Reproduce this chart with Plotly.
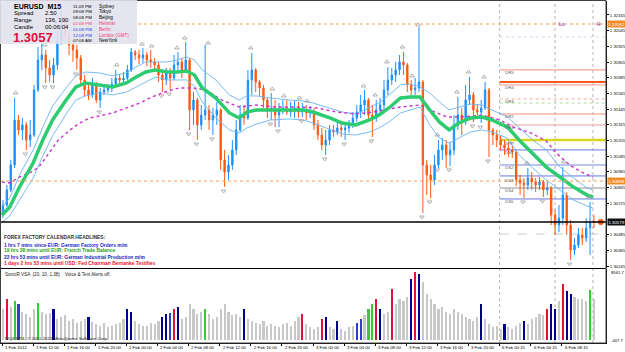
import plotly.graph_objects as go

W, H = 625, 352

# ---------------- data ----------------
time_label_bars = [0, 16, 32, 48, 64, 80, 96, 112, 128, 144, 160, 176, 192, 208, 224, 240, 256, 272, 288]
time_labels = ["1 Feb 2012", "1 Feb 12:00", "1 Feb 16:00", "1 Feb 20:00", "2 Feb 00:00", "2 Feb 04:00",
               "2 Feb 08:00", "2 Feb 12:00", "2 Feb 16:00", "2 Feb 20:00", "3 Feb 00:00", "3 Feb 04:00",
               "3 Feb 08:00", "3 Feb 12:00", "3 Feb 16:00", "3 Feb 20:00", "6 Feb 00:15", "6 Feb 04:15",
               "6 Feb 08:15"]

price_ticks = [1.32165, 1.32045, 1.31925, 1.31805, 1.31685, 1.31565, 1.31445, 1.31325, 1.31205,
               1.31085, 1.30965, 1.30845, 1.30725, 1.30485, 1.30365, 1.30245]

opens = [1.30635, 1.30712, 1.30827, 1.31018, 1.31362, 1.31286, 1.31324, 1.31209, 1.31247, 1.31592,
         1.31821, 1.31859, 1.31760, 1.31706, 1.31783, 1.31974, 1.32127, 1.32012, 1.31936, 1.31898,
         1.31836, 1.31668, 1.31592, 1.31553, 1.31630, 1.31515, 1.31576, 1.31592, 1.31607, 1.31637,
         1.31683, 1.31668, 1.31683, 1.31745, 1.31882, 1.31859, 1.31836, 1.31859, 1.31821, 1.31806,
         1.31783, 1.31706, 1.31668, 1.31729, 1.31683, 1.31783, 1.31806, 1.31745, 1.31821, 1.31439,
         1.31515, 1.31324, 1.31400, 1.31439, 1.31362, 1.31400, 1.31439, 1.31056, 1.30964, 1.31018,
         1.31132, 1.31286, 1.31400, 1.31377, 1.31668, 1.31745, 1.31653, 1.31607, 1.31515, 1.31439,
         1.31454, 1.31400, 1.31439, 1.31454, 1.31423, 1.31439, 1.31454, 1.31423, 1.31439, 1.31416,
         1.31423, 1.31324, 1.31247, 1.31171, 1.31209, 1.31286, 1.31270, 1.31301, 1.31286, 1.31301,
         1.31324, 1.31377, 1.31423, 1.31477, 1.31515, 1.31400, 1.31377, 1.31439, 1.31477, 1.31592,
         1.31668, 1.31706, 1.31745, 1.31806, 1.31783, 1.31630, 1.31592, 1.31607, 1.31653, 1.31018,
         1.30941, 1.30903, 1.31018, 1.31132, 1.31171, 1.31094, 1.31132, 1.31324, 1.31400, 1.31362,
         1.31515, 1.31553, 1.31439, 1.31423, 1.31454, 1.31592, 1.31286, 1.31247, 1.31209, 1.31171,
         1.31148, 1.31132, 1.31117, 1.30903, 1.30880, 1.30865, 1.30918, 1.30888, 1.30865, 1.30888,
         1.30827, 1.30842, 1.30635, 1.30559, 1.30612, 1.30788, 1.30559, 1.30368, 1.30406, 1.30482,
         1.30459, 1.30536, 1.30582]
highs = [1.30750, 1.30865, 1.31056, 1.31531, 1.31400, 1.31377, 1.31347, 1.31362, 1.31630, 1.31920,
         1.31974, 1.31898, 1.31821, 1.31836, 1.32051, 1.32204, 1.32165, 1.32051, 1.31974, 1.31936,
         1.31859, 1.31706, 1.31630, 1.31683, 1.31653, 1.31607, 1.31630, 1.31637, 1.31683, 1.31745,
         1.31714, 1.31729, 1.31783, 1.31913, 1.31898, 1.31898, 1.31913, 1.31882, 1.31898, 1.31836,
         1.31806, 1.31745, 1.31760, 1.31760, 1.31859, 1.31882, 1.31836, 1.31959, 1.31836, 1.31576,
         1.31531, 1.31477, 1.31936, 1.31477, 1.31454, 1.31500, 1.31454, 1.31132, 1.31094, 1.31209,
         1.31362, 1.31477, 1.31477, 1.31745, 1.31875, 1.31760, 1.31668, 1.31630, 1.31531, 1.31569,
         1.31515, 1.31492, 1.31515, 1.31515, 1.31500, 1.31515, 1.31500, 1.31492, 1.31477, 1.31469,
         1.31454, 1.31362, 1.31301, 1.31286, 1.31324, 1.31324, 1.31347, 1.31347, 1.31339, 1.31362,
         1.31423, 1.31477, 1.31553, 1.31592, 1.31531, 1.31477, 1.31515, 1.31531, 1.31668, 1.31767,
         1.31760, 1.31806, 1.31859, 1.31882, 1.31798, 1.31668, 1.31683, 1.32073, 1.31668, 1.31056,
         1.31018, 1.31094, 1.31209, 1.31224, 1.31209, 1.31194, 1.31400, 1.31538, 1.31454, 1.31630,
         1.31691, 1.31576, 1.31477, 1.31515, 1.31653, 1.31607, 1.31301, 1.31286, 1.31247, 1.31209,
         1.31194, 1.31171, 1.31132, 1.30941, 1.30918, 1.30995, 1.30964, 1.30918, 1.30926, 1.30903,
         1.30888, 1.30857, 1.30674, 1.30712, 1.31002, 1.30811, 1.30597, 1.30459, 1.30536, 1.30536,
         1.30612, 1.30735, 1.30635]
lows = [1.30612, 1.30696, 1.30811, 1.30995, 1.31247, 1.31209, 1.31132, 1.31155, 1.31232, 1.31576,
        1.31745, 1.31645, 1.31653, 1.31645, 1.31745, 1.31936, 1.31974, 1.31859, 1.31806, 1.31745,
        1.31630, 1.31538, 1.31515, 1.31531, 1.31492, 1.31454, 1.31553, 1.31569, 1.31576, 1.31622,
        1.31630, 1.31637, 1.31668, 1.31729, 1.31821, 1.31790, 1.31798, 1.31775, 1.31760, 1.31729,
        1.31653, 1.31576, 1.31630, 1.31592, 1.31668, 1.31745, 1.31683, 1.31729, 1.31286, 1.31324,
        1.31209, 1.31286, 1.31362, 1.31286, 1.31247, 1.31324, 1.30980, 1.30850, 1.30903, 1.30980,
        1.31094, 1.31270, 1.31324, 1.31362, 1.31553, 1.31576, 1.31546, 1.31454, 1.31377, 1.31362,
        1.31308, 1.31308, 1.31408, 1.31400, 1.31385, 1.31377, 1.31377, 1.31385, 1.31362, 1.31377,
        1.31286, 1.31209, 1.31132, 1.31094, 1.31171, 1.31232, 1.31247, 1.31232, 1.31209, 1.31263,
        1.31301, 1.31347, 1.31377, 1.31400, 1.31347, 1.31232, 1.31347, 1.31400, 1.31439, 1.31553,
        1.31630, 1.31653, 1.31706, 1.31706, 1.31576, 1.31538, 1.31553, 1.31576, 1.30651, 1.30788,
        1.30765, 1.30865, 1.30995, 1.31056, 1.30995, 1.31010, 1.31094, 1.31286, 1.31247, 1.31324,
        1.31477, 1.31347, 1.31377, 1.31339, 1.31439, 1.31079, 1.31171, 1.31155, 1.31132, 1.31094,
        1.31079, 1.31071, 1.30857, 1.30788, 1.30765, 1.30827, 1.30827, 1.30811, 1.30827, 1.30773,
        1.30788, 1.30559, 1.30482, 1.30505, 1.30559, 1.30482, 1.30291, 1.30329, 1.30383, 1.30406,
        1.30429, 1.30329, 1.30536]
closes = [1.30712, 1.30827, 1.31018, 1.31362, 1.31286, 1.31324, 1.31209, 1.31247, 1.31592, 1.31821,
          1.31859, 1.31760, 1.31706, 1.31783, 1.31974, 1.32127, 1.32012, 1.31936, 1.31898, 1.31836,
          1.31668, 1.31592, 1.31553, 1.31630, 1.31515, 1.31576, 1.31592, 1.31607, 1.31637, 1.31683,
          1.31668, 1.31683, 1.31745, 1.31882, 1.31859, 1.31836, 1.31859, 1.31821, 1.31806, 1.31783,
          1.31706, 1.31668, 1.31729, 1.31683, 1.31783, 1.31806, 1.31745, 1.31821, 1.31439, 1.31515,
          1.31324, 1.31400, 1.31439, 1.31362, 1.31400, 1.31439, 1.31056, 1.30964, 1.31018, 1.31132,
          1.31286, 1.31400, 1.31377, 1.31668, 1.31745, 1.31653, 1.31607, 1.31515, 1.31439, 1.31454,
          1.31400, 1.31439, 1.31454, 1.31423, 1.31439, 1.31454, 1.31423, 1.31439, 1.31416, 1.31423,
          1.31324, 1.31247, 1.31171, 1.31209, 1.31286, 1.31270, 1.31301, 1.31286, 1.31301, 1.31324,
          1.31377, 1.31423, 1.31477, 1.31515, 1.31400, 1.31377, 1.31439, 1.31477, 1.31592, 1.31668,
          1.31706, 1.31745, 1.31806, 1.31783, 1.31630, 1.31592, 1.31607, 1.31653, 1.31018, 1.30941,
          1.30903, 1.31018, 1.31132, 1.31171, 1.31094, 1.31132, 1.31324, 1.31400, 1.31362, 1.31515,
          1.31553, 1.31439, 1.31423, 1.31454, 1.31592, 1.31286, 1.31247, 1.31209, 1.31171, 1.31148,
          1.31132, 1.31117, 1.30903, 1.30880, 1.30865, 1.30918, 1.30888, 1.30865, 1.30888, 1.30827,
          1.30842, 1.30635, 1.30559, 1.30612, 1.30788, 1.30559, 1.30368, 1.30406, 1.30482, 1.30459,
          1.30536, 1.30582, 1.30579]

volumes = [3700, 4900, 3900, 4700, 4300, 3400, 3100, 2700, 3700, 4400,
           3400, 3100, 3200, 3700, 2500, 2700, 2950, 2200, 2500, 2000,
           2200, 2500, 2700, 2100, 1850, 1700, 2000, 1500, 1700, 1850,
           2000, 2500, 3700, 3400, 2200, 1850, 1700, 1600, 2000, 1850,
           2200, 2700, 3100, 3200, 3700, 3900, 2500, 2700, 4300, 3700,
           3100, 3400, 3700, 3100, 2500, 2700, 3700, 4300, 3400, 2950,
           3100, 2700, 3700, 2500, 2200, 2000, 1850, 2200, 1700, 1850,
           1700, 1500, 1850, 2000, 1600, 2200, 2700, 3100, 1850, 1500,
           1250, 1500, 2500, 2700, 1500, 1250, 2200, 1250, 1100, 1500,
           1700, 2000, 2500, 2950, 3700, 4300, 4900, 3700, 3100, 3400,
           6150, 4300, 4900, 4700, 5150, 7400, 8200, 8000, 7000, 5550,
           4900, 4300, 3700, 3900, 3400, 3100, 3700, 3400, 3100, 2700,
           2500, 2200, 2700, 4300, 2500, 1850, 1500, 1700, 1250, 1850,
           1500, 1250, 1700, 2000, 2200, 1850, 2500, 2700, 3100, 2950,
           3700, 4300, 3700, 4700, 6750, 5900, 5550, 5150, 4900, 4900,
           4700, 6000, 4900]
vol_kind = list("grgGbggggG" "gggngggggg" "ggnggggggg" "ggnngggggg" "gnnbrngggg"
                "ggGggggggg" "ggnggggggg" "gggggggrgg" "ggrnggnggg" "gbbgGGrngg"
                "rggggnrngg" "gggggggggg" "gggngggggn" "ggggnggggg" "rnngrnnggg" "gGg")

# moving averages (bar index, price)
ma_bars = [0, 4, 9, 16, 21, 26, 33, 38, 43, 50, 57, 64, 69, 74, 79, 85, 90, 95, 99, 103,
           110, 117, 122, 126, 131, 138, 148, 155, 160, 169, 175, 182, 189, 194, 199, 205, 210, 215, 220, 225,
           230, 235, 241, 247, 252, 260, 266, 273, 280, 287, 294, 301, 304]
ema_mid = [1.30635, 1.30696, 1.30849, 1.31033, 1.31209, 1.31362, 1.31515, 1.31614, 1.31645, 1.31630,
           1.31614, 1.31645, 1.31691, 1.31729, 1.31745, 1.31729, 1.31729, 1.31737, 1.31706, 1.31607,
           1.31530, 1.31416, 1.31377, 1.31423, 1.31439, 1.31439, 1.31439, 1.31439, 1.31423, 1.31377,
           1.31339, 1.31324, 1.31362, 1.31400, 1.31454, 1.31530, 1.31538, 1.31538, 1.31439, 1.31347,
           1.31286, 1.31339, 1.31377, 1.31385, 1.31362, 1.31308, 1.31209, 1.31110, 1.31002, 1.30926,
           1.30849, 1.30788, 1.30773]
ema_high = [1.30696, 1.30765, 1.30941, 1.31133, 1.31308, 1.31469, 1.31607, 1.31699, 1.31729, 1.31722,
            1.31699, 1.31722, 1.31767, 1.31806, 1.31806, 1.31806, 1.31821, 1.31844, 1.31821, 1.31745,
            1.31668, 1.31553, 1.31515, 1.31546, 1.31546, 1.31530, 1.31515, 1.31507, 1.31492, 1.31454,
            1.31423, 1.31408, 1.31454, 1.31492, 1.31553, 1.31630, 1.31637, 1.31614, 1.31569, 1.31500,
            1.31439, 1.31461, 1.31484, 1.31477, 1.31439, 1.31385, 1.31301, 1.31209, 1.31133, 1.31002,
            1.30918, 1.30842, 1.30827]
ema_low = [1.30582, 1.30628, 1.30750, 1.30918, 1.31087, 1.31240, 1.31408, 1.31515, 1.31546, 1.31569,
           1.31553, 1.31576, 1.31614, 1.31653, 1.31691, 1.31668, 1.31668, 1.31668, 1.31622, 1.31500,
           1.31377, 1.31286, 1.31263, 1.31301, 1.31331, 1.31362, 1.31370, 1.31362, 1.31339, 1.31286,
           1.31255, 1.31247, 1.31270, 1.31301, 1.31347, 1.31416, 1.31439, 1.31461, 1.31324, 1.31224,
           1.31186, 1.31224, 1.31270, 1.31286, 1.31270, 1.31224, 1.31094, 1.30995, 1.30903, 1.30827,
           1.30750, 1.30704, 1.30689]
ma89_bars = [0, 4, 9, 15, 19, 24, 29, 35, 40, 45, 50, 57, 64, 71, 77, 84, 91, 98, 105, 113,
             122, 131, 141, 153, 162, 172, 182, 191, 199, 205, 215, 220, 229, 237, 247, 256, 263, 272, 280, 285,
             292, 299, 304]
ma89 = [1.30888, 1.30880, 1.30926, 1.30964, 1.31002, 1.31110, 1.31209, 1.31286, 1.31339, 1.31377,
        1.31393, 1.31416, 1.31454, 1.31492, 1.31538, 1.31576, 1.31607, 1.31607, 1.31592, 1.31515,
        1.31461, 1.31477, 1.31461, 1.31461, 1.31454, 1.31423, 1.31408, 1.31423, 1.31446, 1.31461,
        1.31477, 1.31439, 1.31385, 1.31385, 1.31400, 1.31362, 1.31308, 1.31263, 1.31201, 1.31110,
        1.31018, 1.30957, 1.30926]

# fractals (bar index, price)
frac_up_bars = [7, 22, 59, 66, 72, 77, 90, 94, 106, 128, 139, 145, 153, 157, 186, 192, 198, 206, 211, 214,
                224, 234, 240, 248, 270, 289, 302]
frac_up = [1.31569, 1.31936, 1.31783, 1.31974, 1.31943, 1.31928, 1.31913, 1.31989, 1.31951, 1.31913,
           1.31599, 1.31546, 1.31530, 1.31507, 1.31622, 1.31553, 1.31806, 1.31920, 1.31699, 1.32089,
           1.31247, 1.31576, 1.31729, 1.31691, 1.31033, 1.31041, 1.30773]
frac_dn_bars = [12, 22, 26, 38, 50, 82, 86, 96, 100, 108, 114, 138, 142, 154, 166, 176, 190, 216, 220, 224,
                230, 242, 246, 250, 268, 278, 292]
frac_dn = [1.31102, 1.31614, 1.31614, 1.31714, 1.31423, 1.31546, 1.31561, 1.31255, 1.31178, 1.31217,
           1.30819, 1.31331, 1.31278, 1.31354, 1.31064, 1.31178, 1.31201, 1.30620, 1.30735, 1.30980,
           1.30980, 1.31316, 1.31308, 1.31048, 1.30735, 1.30742, 1.30260]

# horizontal levels
day_high, day_low_line, bid = 1.32096, 1.30895, 1.30582
pivot_names = ["DR5", "DR4", "DR3", "DR2", "DR1", "DPP", "DS1", "DS2", "DS3", "DS4", "DS5"]
pivot_label_prices = [1.31723, 1.31614, 1.31500, 1.31385, 1.31301, 1.31186, 1.31110, 1.30995, 1.30903, 1.30819, 1.30735]
pivot_lines = [1.31745, 1.31653, 1.31630, 1.31523, 1.31492, 1.31408, 1.31324, 1.31209, 1.31133, 1.31018,
               1.30934, 1.30842, 1.30758, 1.30490, 1.31997]
pivot_colors = ["#F5907A", "#FF5A1E", "#F59A8C", "#F5A898", "#A8E0A0", "#F5907A", "#F0A0A0", "#D8D820",
                "#6878E8", "#7888E8", "#6878E8", "#C8C8C8", "#6878E8", "#C8C8C8", "#D8D0F0"]
pivot_widths = [1, 2, 1, 1, 1, 1, 1, 2.5, 1, 1, 1, 2, 1, 1, 1]
pivot_dash = ["solid", "solid", "solid", "dot", "dot", "solid", "solid", "solid", "solid", "solid",
              "solid", "solid", "solid", "dash", "dot"]
pivot_start_bar = 256
session_bars = [256, 284.5, 304]

# ---------------- figure ----------------
XR = [-1.03, 310.7]
YR = [1.30230, 1.32272]
XD = [0, 606 / W]
Y1D = [(H - 268) / H, (H - 1) / H]
Y2D = [(H - 343) / H, (H - 269) / H]


def px(x):
    return x / W


def py(y):
    return 1 - y / H


cbars = [2 * k + 0.5 for k in range(len(closes))]

fig = go.Figure()
fig.add_trace(go.Candlestick(
    x=cbars, open=opens, high=highs, low=lows, close=closes,
    increasing=dict(line=dict(color="#1E90FF", width=1), fillcolor="#1E90FF"),
    decreasing=dict(line=dict(color="#FF5A14", width=1), fillcolor="#FF5A14"),
    whiskerwidth=0, showlegend=False, hoverinfo="skip", xaxis="x", yaxis="y"))

fig.add_trace(go.Scatter(x=ma_bars, y=ema_high, mode="lines", line=dict(color="#6AB4F0", width=0.9),
                         showlegend=False, hoverinfo="skip"))
fig.add_trace(go.Scatter(x=ma_bars, y=ema_low, mode="lines", line=dict(color="#6AB4F0", width=0.9),
                         showlegend=False, hoverinfo="skip"))
fig.add_trace(go.Scatter(x=ma89_bars, y=ma89, mode="lines", line=dict(color="#CC33CC", width=1.4, dash="dot"),
                         showlegend=False, hoverinfo="skip"))
fig.add_trace(go.Scatter(x=ma_bars, y=ema_mid, mode="lines", line=dict(color="#2ECC71", width=3.5),
                         showlegend=False, hoverinfo="skip"))

fig.add_trace(go.Scatter(x=frac_up_bars, y=frac_up, mode="markers",
                         marker=dict(symbol="triangle-up-open", size=4, color="#9A9A9A", line=dict(width=0.8)),
                         showlegend=False, hoverinfo="skip"))
fig.add_trace(go.Scatter(x=frac_dn_bars, y=frac_dn, mode="markers",
                         marker=dict(symbol="triangle-down-open", size=4, color="#9A9A9A", line=dict(width=0.8)),
                         showlegend=False, hoverinfo="skip"))

kind_color = {"g": "#C8C8C8", "n": "#00008B", "b": "#2E3CD0", "r": "#DC143C", "G": "#32CD32"}
fig.add_trace(go.Bar(x=cbars, y=volumes, marker=dict(color=[kind_color[k] for k in vol_kind], line=dict(width=0)),
                     width=1.1, showlegend=False, hoverinfo="skip", xaxis="x", yaxis="y2"))

# current price dot
fig.add_trace(go.Scatter(x=[308], y=[bid], mode="markers", marker=dict(color="#FF5A14", size=6),
                         cliponaxis=False, showlegend=False, hoverinfo="skip"))

shapes = []
shapes.append(dict(type="line", xref="x", yref="y", x0=XR[0], x1=XR[1], y0=day_high, y1=day_high,
                   line=dict(color="#F5A050", width=1, dash="dot")))
shapes.append(dict(type="line", xref="x", yref="y", x0=XR[0], x1=XR[1], y0=day_low_line, y1=day_low_line,
                   line=dict(color="#F5A050", width=1, dash="dot")))
for p, c, w_, d in zip(pivot_lines, pivot_colors, pivot_widths, pivot_dash):
    shapes.append(dict(type="line", xref="x", yref="y", x0=pivot_start_bar, x1=XR[1], y0=p, y1=p,
                       line=dict(color=c, width=w_, dash=d), layer="below"))
shapes.append(dict(type="line", xref="x", yref="y", x0=XR[0], x1=XR[1], y0=bid, y1=bid,
                   line=dict(color="black", width=1.5)))
for sb in session_bars:
    shapes.append(dict(type="line", xref="x", yref="paper", x0=sb, x1=sb, y0=Y2D[0], y1=Y1D[1],
                       line=dict(color="#B4B4B4", width=1, dash="dot"), layer="below"))
shapes.append(dict(type="line", xref="paper", yref="paper", x0=0, x1=XD[1], y0=py(268.5), y1=py(268.5),
                   line=dict(color="black", width=1)))
shapes.append(dict(type="rect", xref="paper", yref="paper", x0=px(0.5), x1=XD[1], y0=Y2D[0], y1=py(0.5),
                   line=dict(color="#404040", width=1)))
shapes.append(dict(type="rect", xref="paper", yref="paper", x0=0, x1=px(137), y0=py(44), y1=1,
                   fillcolor="rgba(226,226,238,0.9)", line=dict(width=0), layer="above"))

ann = []
F = "Liberation Sans, Arial, sans-serif"


def txt(x, y, s, size, color="black", bold=False, anchor="left", yanchor="middle"):
    ann.append(dict(xref="paper", yref="paper", x=px(x), y=py(y), text=("<b>%s</b>" % s) if bold else s,
                    showarrow=False, xanchor=anchor, yanchor=yanchor,
                    font=dict(family=F, size=size, color=color)))


txt(12, 6, "EURUSD  M15", 7, bold=True)
for y, a, b in [(13.5, "Spread", "2.50"), (20, "Range", "136, 190"), (26.5, "Candle", "00:06:04")]:
    txt(12, y, a, 6)
    txt(43, y, b, 6)
txt(11, 38, "1.3057", 13, "#DC143C", bold=True)
city_rows = [("11:09 PM", "Sydney", "black", "black"), ("09:08 PM", "Tokyo", "black", "black"),
             ("08:08 PM", "Beijing", "black", "black"), ("02:08 PM", "Helsinki", "#F04070", "#F04070"),
             ("01:08 PM", "Berlin", "#2040E0", "#F04070"), ("12:08 PM", "London (GMT)", "#2040E0", "#F04070"),
             ("07:08 AM", "NewYork", "black", "black")]
for i, (t, c, tc, cc) in enumerate(city_rows):
    y = 6 + i * 5.83
    txt(71, y, t, 4.4, tc)
    txt(97, y, c, 4.6, cc)

txt(2, 237, "FOREX FACTORY CALENDAR HEADLINES:", 4.9, "#303030", bold=True)
heads = [("1 hrs 7 mins since EUR: German Factory Orders m/m", "#2424D0"),
         ("19 hrs 38 mins until EUR: French Trade Balance", "#1E9E1E"),
         ("22 hrs 53 mins until EUR: German Industrial Production m/m", "#2424B8"),
         ("1 days 2 hrs 53 mins until USD: Fed Chairman Bernanke Testifies", "#E8102A")]
for i, (s, c) in enumerate(heads):
    txt(2, 245 + i * 6, s, 4.9, c, bold=True)
txt(3, 274, "SonicR VSA  (20, 10, 1.38)    Voice &amp; Text Alerts off.", 4.6, "#202020")
txt(3, 338.5, "MQ4 MT4, © 2001-2012 MetaQuotes Software Corp.", 4.4, "#202020")

txt(609, 272, "8561.7", 4.2)
txt(609, 340, "-407.7", 4.2)

for b, s in zip(time_label_bars, time_labels):
    ann.append(dict(xref="x", yref="paper", x=b + 0.4, y=py(347.5), text=s, showarrow=False, xanchor="left",
                    yanchor="middle", font=dict(family=F, size=4.3, color="black")))

for n, p in zip(pivot_names, pivot_label_prices):
    ann.append(dict(xref="x", yref="y", x=pivot_start_bar + 1.5, y=p, text=n, showarrow=False, xanchor="left",
                    yanchor="middle", font=dict(family=F, size=4.4, color="#606060")))
ann.append(dict(xref="x", yref="paper", x=285.5, y=py(20), text="<b>Lo</b>", showarrow=False, xanchor="left",
                font=dict(family=F, size=4.6, color="#A040C0")))
ann.append(dict(xref="x", yref="paper", x=305, y=py(20), text="<b>H</b>", showarrow=False, xanchor="left",
                font=dict(family=F, size=4.6, color="#A040C0")))

for p, s, bg in [(day_high, "1.32062", "#F08C28"), (day_low_line, "1.30898", "#F08C28"), (bid, "1.30579", "#101010")]:
    ann.append(dict(xref="paper", yref="y", x=px(607), y=p, text=s, showarrow=False, xanchor="left",
                    yanchor="middle", bgcolor=bg, borderpad=0.5,
                    font=dict(family=F, size=4.3, color="white")))

fig.update_layout(
    width=W, height=H, margin=dict(l=0, r=0, t=0, b=0),
    paper_bgcolor="white", plot_bgcolor="white", showlegend=False,
    shapes=shapes, annotations=ann, bargap=0, boxgap=0.5,
    xaxis=dict(domain=XD, range=XR, anchor="y2", showgrid=False, zeroline=False,
               tickvals=time_label_bars, showticklabels=False, ticks="outside", ticklen=2, tickcolor="black",
               showline=True, linecolor="black", rangeslider=dict(visible=False)),
    yaxis=dict(domain=Y1D, range=YR, side="right", anchor="x", showgrid=False, zeroline=False,
               tickvals=price_ticks, ticktext=["%.5f" % v for v in price_ticks],
               tickfont=dict(family=F, size=4.3, color="black"), ticks="outside", ticklen=2,
               tickcolor="black", showline=True, linecolor="black"),
    yaxis2=dict(domain=Y2D, range=[-407.7, 8561.7], side="right", anchor="x", showgrid=False,
                zeroline=False, showticklabels=False, ticks="", showline=True, linecolor="black"),
)

fig.write_html("out.html")
